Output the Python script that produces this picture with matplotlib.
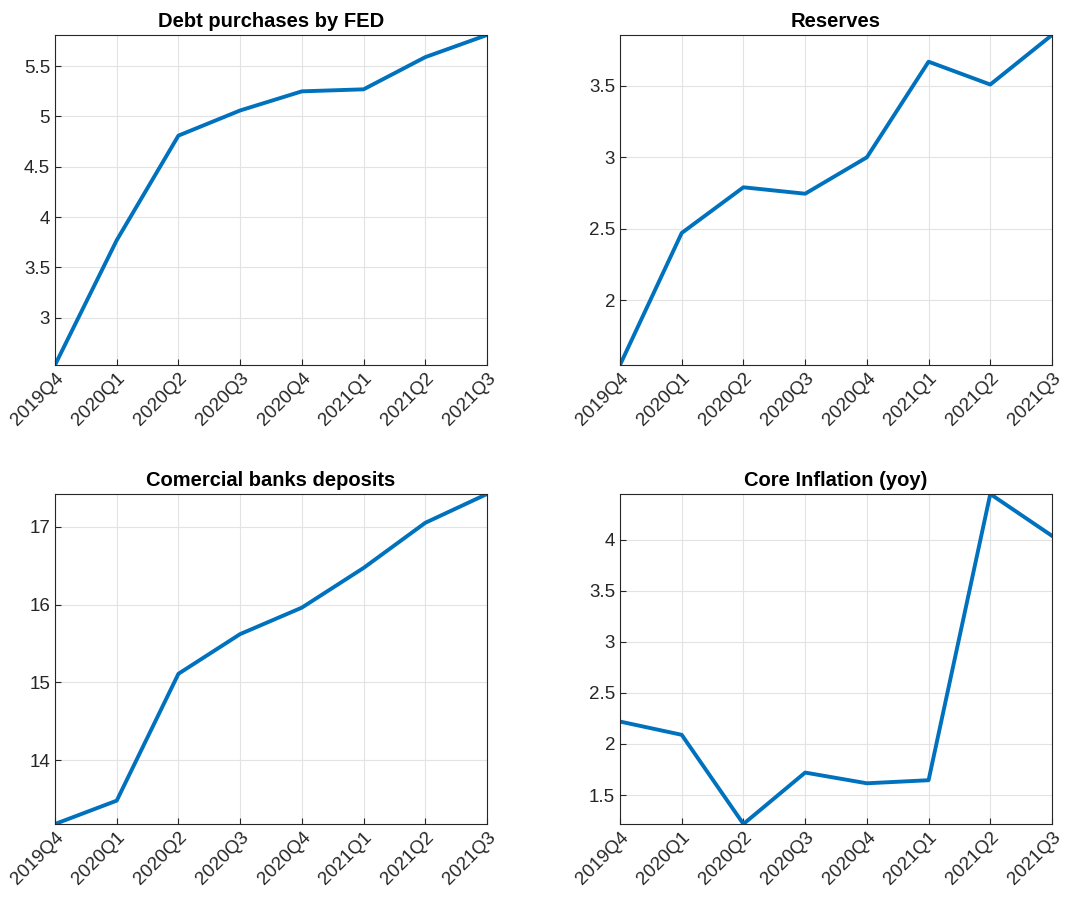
import matplotlib
matplotlib.use("Agg")
import matplotlib.pyplot as plt

quarters = ["2019Q4", "2020Q1", "2020Q2", "2020Q3", "2020Q4", "2021Q1", "2021Q2", "2021Q3"]

debt = [2.53, 3.77, 4.81, 5.06, 5.25, 5.27, 5.59, 5.81]
reserves = [1.545, 2.47, 2.79, 2.745, 3.0, 3.67, 3.51, 3.857]
deposits = [13.18, 13.48, 15.11, 15.62, 15.96, 16.47, 17.05, 17.42]
core_infl = [2.22, 2.09, 1.216, 1.72, 1.615, 1.645, 4.45, 4.04]

titles = ["Debt purchases by FED", "Reserves", "Comercial banks deposits", "Core Inflation (yoy)"]
series = [debt, reserves, deposits, core_infl]
yticks = [
    [3, 3.5, 4, 4.5, 5, 5.5],
    [2, 2.5, 3, 3.5],
    [14, 15, 16, 17],
    [1.5, 2, 2.5, 3, 3.5, 4],
]

plt.rcParams["font.family"] = ["Liberation Sans", "DejaVu Sans"]
fig = plt.figure(figsize=(10.68, 9.05), dpi=100)

W, H = 1068, 905
boxes = [(55, 35), (620, 35), (55, 494), (620, 494)]
aw, ah = 432, 330

for (x0, y0), title, vals, yt in zip(boxes, titles, series, yticks):
    ax = fig.add_axes([x0 / W, 1 - (y0 + ah) / H, aw / W, ah / H])
    xs = list(range(len(quarters)))
    ax.plot(xs, vals, color="#0072BD", linewidth=2.8)
    ax.set_xlim(0, len(quarters) - 1)
    ax.set_ylim(min(vals), max(vals))
    ax.set_xticks(xs)
    ax.set_xticklabels(quarters, rotation=45, ha="right", rotation_mode="anchor")
    ax.set_yticks(yt)
    ax.set_yticklabels([f"{v:g}" for v in yt])
    ax.tick_params(labelsize=13.5, direction="in", length=4, colors="#262626")
    ax.grid(True, color="#e3e3e3", linewidth=0.8)
    ax.set_axisbelow(True)
    for s in ax.spines.values():
        s.set_color("#262626")
        s.set_linewidth(0.8)
    ax.set_title(title, fontsize=14.5, fontweight="bold", pad=6)

fig.savefig("out.png")
